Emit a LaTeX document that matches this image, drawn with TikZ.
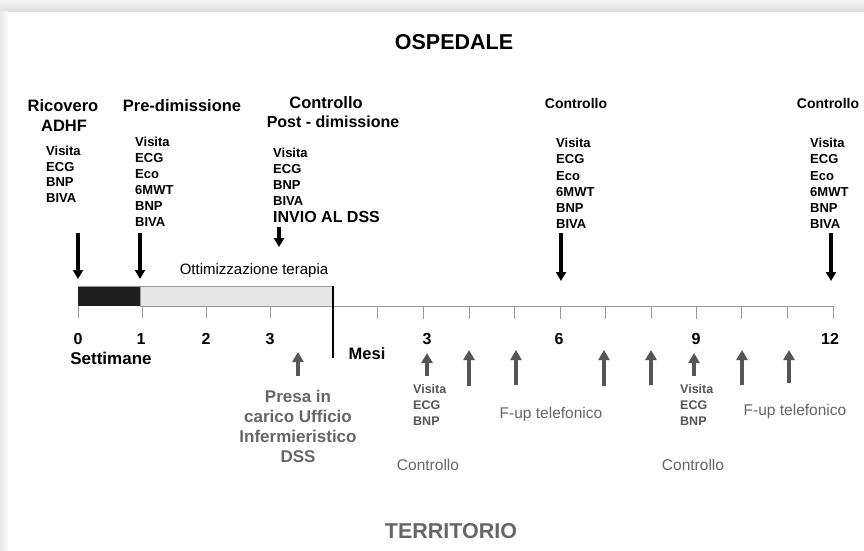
\documentclass[tikz,border=0pt]{standalone}
\usepackage{fontspec}
\setmainfont{Liberation Sans}
\usetikzlibrary{arrows.meta}
\definecolor{txtgray}{HTML}{666666}
\definecolor{arrgray}{HTML}{555555}
\definecolor{barfill}{HTML}{E6E6E6}
\definecolor{tickgray}{HTML}{999999}
\begin{document}
\begin{tikzpicture}[x=1pt,y=-1pt,
  hdr/.style={font=\fontsize{16.5}{18}\selectfont\bfseries, inner sep=0, anchor=base},
  ctl/.style={font=\fontsize{14}{16}\selectfont\bfseries, inner sep=0, anchor=base},
  num/.style={font=\fontsize{16}{18}\selectfont\bfseries, inner sep=0, anchor=base},
  lst/.style={font=\fontsize{13}{16}\selectfont\bfseries, align=left, anchor=north west, inner sep=0},
  glst/.style={font=\fontsize{12.5}{16}\selectfont\bfseries, text=arrgray, align=left, anchor=north west, inner sep=0},
  gtxt/.style={font=\fontsize{15.5}{18}\selectfont, text=txtgray, inner sep=0, anchor=base},
  downarrow/.style={line width=3.5pt, -{Triangle[width=10pt,length=9pt]}},
  uparrow/.style={arrgray, line width=4.5pt, -{Triangle[width=11pt,length=10pt]}},
  tick/.style={tickgray, line width=0.8pt}
]
\useasboundingbox (0,0) rectangle (864,551);
\fill[white] (0,0) rectangle (864,551);
\shade[top color=gray!8, bottom color=gray!28] (0,0) rectangle (864,12);
\shade[left color=gray!18, right color=gray!4] (0,12) rectangle (8,551);

% titles
\node[font=\fontsize{21.5}{24}\selectfont\bfseries, inner sep=0, anchor=base] (osp) at (454,49) {OSPEDALE};
\node[font=\fontsize{21.5}{24}\selectfont\bfseries, text=txtgray, inner sep=0, anchor=base] (terr) at (451,538) {TERRITORIO};

% headers
\node[hdr] (ric) at (63,111) {Ricovero};
\node[hdr] (adhf) at (64,131) {ADHF};
\node[hdr] (pre) at (182,111) {Pre-dimissione};
\node[hdr] (ctlp) at (326,108) {Controllo};
\node[hdr, font=\fontsize{16}{18}\selectfont\bfseries] (post) at (333,127) {Post - dimissione};
\node[ctl] (ctl6) at (576,108) {Controllo};
\node[ctl] (ctl12) at (828,108) {Controllo};

% lists
\node[lst, font=\fontsize{13}{15.5}\selectfont\bfseries] (l0) at (46,146) {Visita\\ECG\\BNP\\BIVA};
\node[lst] (l1) at (135,137) {Visita\\ECG\\Eco\\6MWT\\BNP\\BIVA};
\node[lst] (lp) at (273,148) {Visita\\ECG\\BNP\\BIVA};
\node[lst, font=\fontsize{16}{18}\selectfont\bfseries] (invio) at (273,211) {INVIO AL DSS};
\node[lst, font=\fontsize{13}{16.2}\selectfont\bfseries] (l6) at (556,138) {Visita\\ECG\\Eco\\6MWT\\BNP\\BIVA};
\node[lst, font=\fontsize{13}{16.2}\selectfont\bfseries] (l12) at (810,138) {Visita\\ECG\\Eco\\6MWT\\BNP\\BIVA};

% down arrows
\coordinate (d0t) at (78,233); \coordinate (d0b) at (78,279);
\coordinate (d1t) at (140,233); \coordinate (d1b) at (140,279);
\coordinate (dpt) at (279,227); \coordinate (dpb) at (279,247);
\coordinate (d6t) at (561,233); \coordinate (d6b) at (561,281);
\coordinate (d12t) at (831,233); \coordinate (d12b) at (831,281);
\draw[downarrow] (d0t) -- (d0b);
\draw[downarrow] (d1t) -- (d1b);
\draw[downarrow] (dpt) -- (dpb);
\draw[downarrow] (d6t) -- (d6b);
\draw[downarrow] (d12t) -- (d12b);

\node[font=\fontsize{15}{17}\selectfont, inner sep=0, anchor=base] (ott) at (254,274) {Ottimizzazione terapia};

% bar
\fill[black!88] (78,286) rectangle (140,306);
\draw[tickgray, fill=barfill, line width=0.8pt] (140,286) rectangle (333,306);
\draw[tickgray, line width=0.8pt] (78,286) -- (140,286);
\draw[tick] (333,306) -- (833,306);
\foreach \x in {78,142,206,270} \draw[tick] (\x,306) -- (\x,318);
\foreach \x in {377,423,469,514,560,605,651,696,741,787,833} \draw[tick] (\x,306) -- (\x,319);
\draw[black, line width=1.5pt] (333,286) -- (333,358);

% numbers
\node[num] (w0) at (78,344) {0};
\node[num] (w1) at (141,344) {1};
\node[num] (w2) at (206,344) {2};
\node[num] (w3) at (270,344) {3};
\node[hdr, font=\fontsize{17}{19}\selectfont\bfseries] (sett) at (111,364) {Settimane};
\node[hdr] (mesi) at (367,359) {Mesi};
\node[num] (m3) at (427,344) {3};
\node[num] (m6) at (559,344) {6};
\node[num] (m9) at (696,344) {9};
\node[num] (m12) at (830,344) {12};

% up arrows
\foreach \x/\t/\b [count=\i] in {298/352/376, 427/353/376, 469/350/386, 516/350/385, 604/350/386, 651/350/385, 694/353/376, 742/350/385, 789/350/383} {
  \coordinate (u\i t) at (\x,\t);
  \coordinate (u\i b) at (\x,\b);
  \draw[uparrow] (u\i b) -- (u\i t);
}

% lower texts
\node[font=\fontsize{17}{20}\selectfont\bfseries, text=txtgray, align=center, anchor=north, inner sep=0] (presa) at (298,390) {Presa in\\carico Ufficio\\Infermieristico\\DSS};
\node[glst] (g3) at (413,384) {Visita\\ECG\\BNP};
\node[glst] (g9) at (680,384) {Visita\\ECG\\BNP};
\node[gtxt] (fup1) at (551,418.5) {F-up telefonico};
\node[gtxt] (fup2) at (795,415.5) {F-up telefonico};
\node[gtxt, font=\fontsize{15.5}{18}\selectfont] (c3) at (428,470) {Controllo};
\node[gtxt, font=\fontsize{15.5}{18}\selectfont] (c9) at (693,470) {Controllo};
\end{tikzpicture}
\end{document}
